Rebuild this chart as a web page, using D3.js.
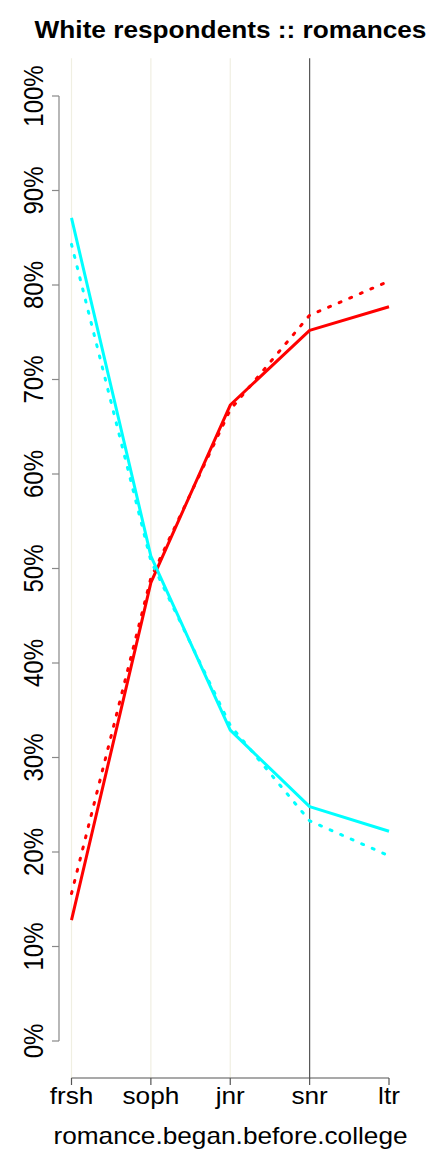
<!DOCTYPE html>
<html lang="en">
<head>
<meta charset="UTF-8">
<title>White respondents :: romances</title>
<style>
  body{ margin:0; background:#fff; overflow:hidden; }
  text{ font-family: "Liberation Sans", Arial, sans-serif; }
</style>
</head>
<body>
<script src="https://cdnjs.cloudflare.com/ajax/libs/d3/7.8.2/d3.min.js"></script>
<script>
const categories = ['frsh','soph','jnr','snr','ltr']
const yTicks = [0,0.1,0.2,0.3,0.4,0.5,0.6,0.7,0.8,0.9,1]

// shares per year romance began
const redSolid   = [0.128, 0.485, 0.673, 0.752, 0.777]
const redDotted  = [0.156, 0.490, 0.668, 0.768, 0.804]
const cyanSolid  = [0.871, 0.513, 0.329, 0.248, 0.222]
const cyanDotted = [0.843, 0.508, 0.334, 0.233, 0.196]

const series = [
  {vals: redDotted, color: '#ff0000', dotted: true},
  {vals: cyanDotted, color: '#00ffff', dotted: true},
  {vals: redSolid, color: '#ff0000', dotted: false},
  {vals: cyanSolid, color: '#00ffff', dotted: false}
]

const W = 432, H = 1152
const sx = 1.14  // the original is a bit wider than tall, text too
const svg = d3.select('body').append('svg')
  .attr('width', W).attr('height', H)

// plot region, R style 4% padding
const x = d3.scalePoint().domain(categories).range([71.5, 389])
const y = d3.scaleLinear().domain([0, 1]).range([1041, 96])
const plotTop = y(1.04), plotBottom = y(-0.04)

// vertical guides
svg.append('g').selectAll('line')
  .data(categories.slice(0, 4))
  .join('line')
  .attr('x1', d => x(d)).attr('x2', d => x(d))
  .attr('y1', plotTop).attr('y2', plotBottom)
  .attr('stroke', d => d === 'snr' ? '#555' : '#f0efe2')
  .attr('stroke-width', 1.2)

const line = d3.line()
  .x((d, i) => x(categories[i]))
  .y(d => y(d))

svg.append('g').selectAll('path')
  .data(series)
  .join('path')
  .attr('d', d => line(d.vals))
  .attr('fill', 'none')
  .attr('stroke', d => d.color)
  .attr('stroke-width', 3)
  .attr('stroke-linecap', d => d.dotted ? 'round' : 'butt')
  .attr('stroke-linejoin', 'round')
  .attr('stroke-dasharray', d => d.dotted ? '2,9.5' : null)

// y axis
const axL = 59
const gy = svg.append('g')
gy.append('line')
  .attr('x1', axL).attr('x2', axL)
  .attr('y1', y(1)).attr('y2', y(0))
  .attr('stroke', '#888').attr('stroke-width', 1.2)
gy.selectAll('line.tk')
  .data(yTicks)
  .join('line').attr('class', 'tk')
  .attr('x1', axL - 7).attr('x2', axL)
  .attr('y1', d => y(d)).attr('y2', d => y(d))
  .attr('stroke', '#888').attr('stroke-width', 1.2)
gy.selectAll('text')
  .data(yTicks)
  .join('text')
  .attr('transform', d => `translate(42.5,${y(d)}) scale(${sx},1) rotate(-90)`)
  .attr('text-anchor', 'middle')
  .attr('font-size', 24)
  .text(d => d3.format('.0%')(d))

// x axis
const axB = 1078
const gx = svg.append('g')
gx.append('line')
  .attr('x1', x('frsh')).attr('x2', x('ltr'))
  .attr('y1', axB).attr('y2', axB)
  .attr('stroke', '#555').attr('stroke-width', 1.2)
gx.selectAll('line.tk')
  .data(categories)
  .join('line').attr('class', 'tk')
  .attr('x1', d => x(d)).attr('x2', d => x(d))
  .attr('y1', axB).attr('y2', axB + 7)
  .attr('stroke', '#555').attr('stroke-width', 1.2)
gx.selectAll('text')
  .data(categories)
  .join('text')
  .attr('transform', d => `translate(${x(d)},1104) scale(${sx},1)`)
  .attr('text-anchor', 'middle')
  .attr('font-size', 23)
  .text(d => d)

svg.append('text')
  .attr('transform', `translate(230.5,1144) scale(${sx},1)`)
  .attr('text-anchor', 'middle')
  .attr('font-size', 23)
  .text('romance.began.before.college')

svg.append('text')
  .attr('transform', `translate(230.5,38) scale(${sx},1)`)
  .attr('text-anchor', 'middle')
  .attr('font-size', 23)
  .attr('font-weight', 'bold')
  .text('White respondents :: romances')
</script>
</body>
</html>
